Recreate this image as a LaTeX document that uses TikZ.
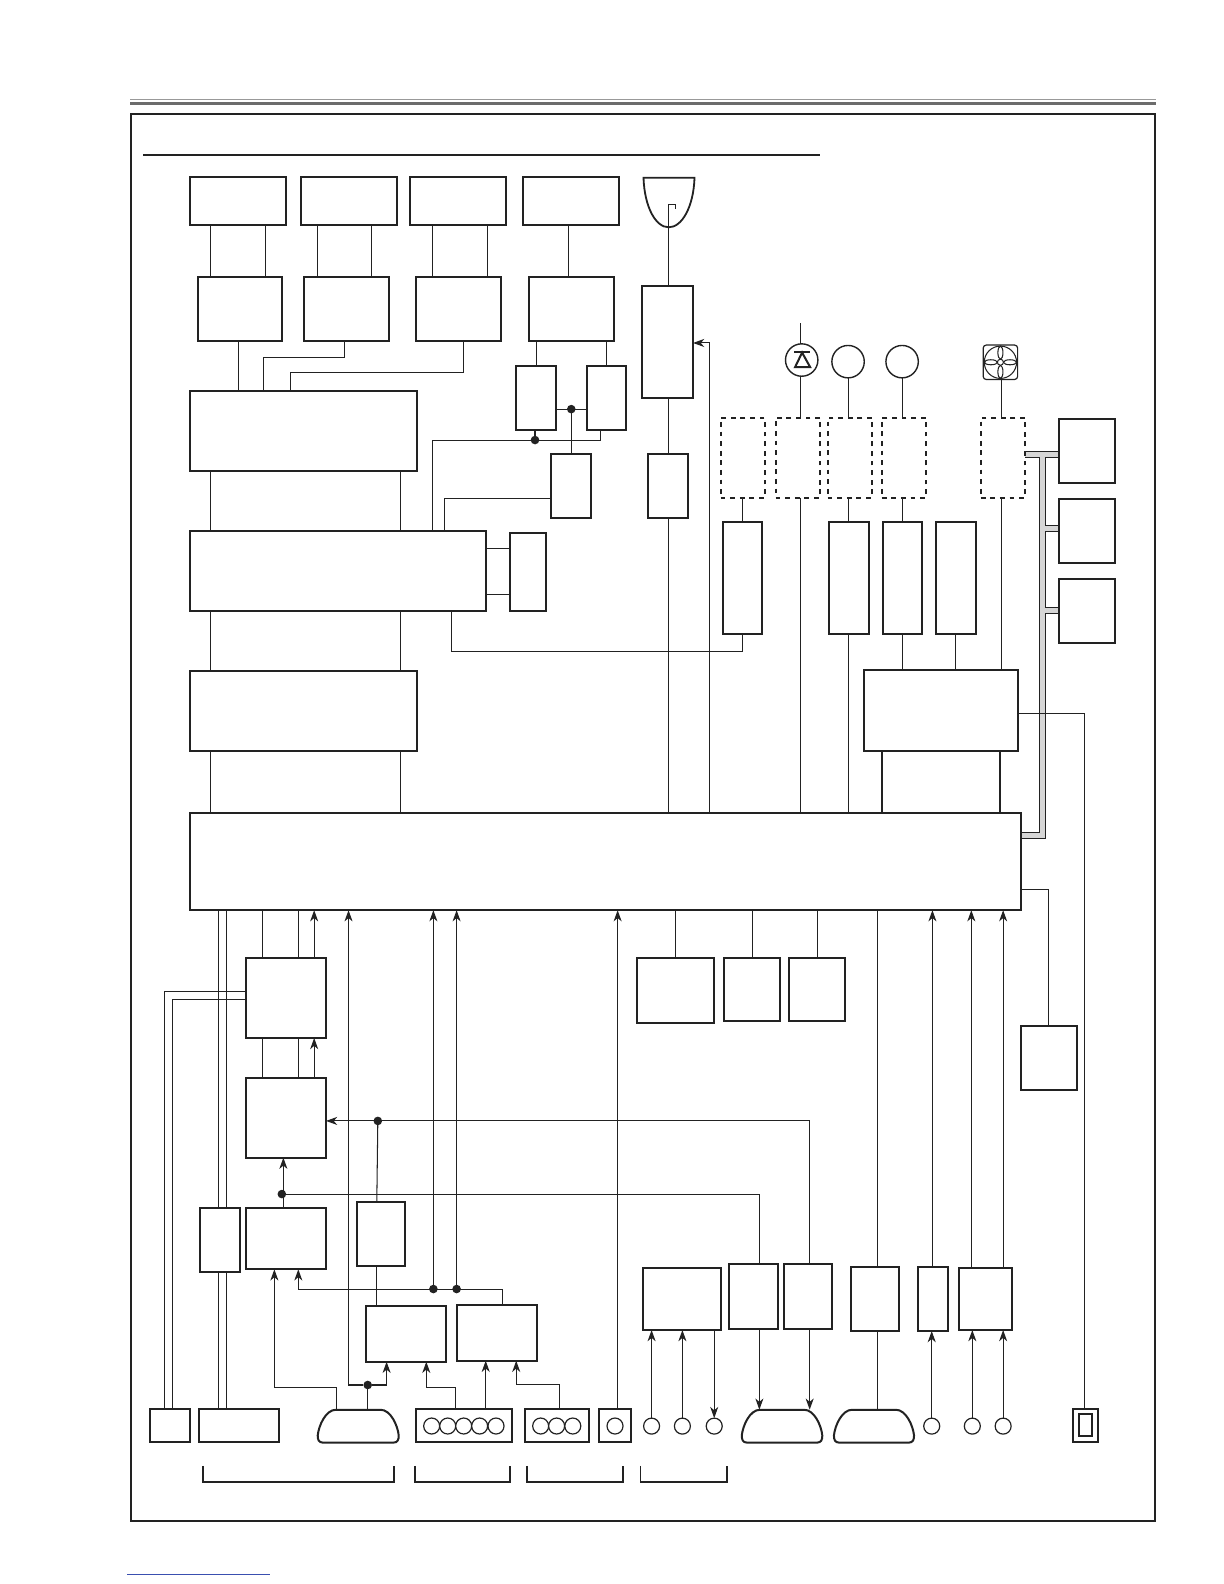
\documentclass[tikz,border=0pt]{standalone}
\usetikzlibrary{arrows.meta}
\definecolor{ink}{HTML}{222222}
\definecolor{busgray}{HTML}{D6D6D6}
\definecolor{linkblue}{HTML}{3A4FB0}
\tikzset{
  blk/.style = {rectangle, draw = ink, fill = white, line width = 1pt, inner sep = 0pt, outer sep = 0pt},
  dashblk/.style = {blk, dash pattern = on 2.4pt off 2.4pt},
  wire/.style = {draw = ink, line width = 0.52pt},
  port/.style = {circle, draw = ink, fill = white, line width = 0.6pt, minimum size = 8pt, inner sep = 0pt, outer sep = 0pt},
  bigport/.style = {port, line width = 0.7pt, minimum size = 16.2pt},
  dotnode/.style = {circle, fill = ink, minimum size = 4.3pt, inner sep = 0pt, outer sep = 0pt},
  >={Stealth[length = 5.6pt, width = 4pt, inset = 1.7pt]}
}
\begin{document}
\begin{tikzpicture}[x = 0.505pt, y = -0.505pt]
  \useasboundingbox (0, 0) rectangle (1211.6, 1568);
  \draw[draw = gray!80, line width = 0.5pt] (129, 98.3) -- (1144, 98.3);
  \draw[draw = gray!85!black, line width = 1.6pt] (129, 102.3) -- (1144, 102.3);
  \node[blk, minimum width = 1013.6 * 0.505pt, minimum height = 1392.5 * 0.505pt] (frame) at (636.2, 809) {};
  \draw[ink, line width = 1pt] (142, 153.5) -- (811.5, 153.5);
  \draw[linkblue, line width = 0.5pt] (126, 1559) -- (267, 1559);

  \filldraw[fill = busgray, wire] (1012, 447) -- (1048, 447) -- (1048, 452.7) -- (1035, 452.7) -- (1035, 520) -- (1048, 520) -- (1048, 525.7) -- (1035, 525.7) -- (1035, 601) -- (1048, 601) -- (1048, 607) -- (1035, 607) -- (1035, 829.6) -- (1008, 829.6) -- (1008, 824.3) -- (1029, 824.3) -- (1029, 452.7) -- (1012, 452.7) -- cycle;

  \foreach \n/\xa/\ya/\xb/\yb in {
    t1/188/175/283/223, t2/298/175/393/223, t3/406/175/501/223, t4/518/175/613/223,
    p1/196/274/279/338, p2/301/274/384.6/338, p3/412/274/496/338, p4/524/274/608/338,
    sa/188/387/413/466, sb/188/526/481/605, sc/188/664/413/743, mainb/188/805/1011/901,
    s1/511/362/550/426, s2/581/362/620/426, s3/545/449/584.6/513, se/505/527.5/540/605,
    tall/636/283/686/394, hv/641/449/681/513,
    g1/716/517/754.6/628, g2/821/517/860/628, g3/874/517/913/628, g4/927/517/966/628,
    drv/855/663/1008/743,
    r1/1048/414.5/1104/478, r2/1048/494/1104/557, r3/1048/573/1104/636.5,
    v1/631/948/707/1012.5, v2/717/948/772.6/1011, v3/781/948/836.6/1011, v4/1011/1016/1066.6/1079,
    dig/243.5/948/322.7/1027.5, adc/243.5/1066.8/322.7/1146,
    uu/198/1195.5/237.6/1259, yy/243.5/1195.5/322.7/1256.5, kk/353/1189.5/401.3/1253.5,
    mm/362/1293/441.6/1348, nn/452.5/1291.8/531.7/1347,
    aud/636.5/1255/714/1316.6, qq/722/1251.7/770.5/1315.7, rr/775.8/1251.7/824/1315.7,
    ss/842/1254/890/1317.6, tt/908.4/1254/938.8/1317.6, ww/949/1255/1002/1316.6,
    cw/148.5/1394.5/188/1427.5, cz/197/1394.5/276.6/1427.5,
    cv/411.4/1394.5/507/1427.5, cy/519.4/1394.5/583.4/1427.5, cs/592.6/1394.5/625/1427.5,
    cac/1061.8/1395/1086.6/1427} {
    \node[blk, minimum width = {(\xb - \xa) * 0.505pt}, minimum height = {(\yb - \ya) * 0.505pt}] (\n) at ({(\xa + \xb) / 2}, {(\ya + \yb) / 2}) {};
  }
  \node[blk, minimum width = 13.1 * 0.505pt, minimum height = 21.8 * 0.505pt] (cacin) at (cac) {};

  \foreach \n/\xa/\ya/\xb/\yb in {
    d1/713.4/413.5/757.3/492.6, d2/767.8/413.5/812/492.6, d3/819.3/413.5/863.4/492.6,
    d4/872.8/413.5/916.8/492.6, d5/970.8/413.5/1014.9/492.6} {
    \node[dashblk, minimum width = {(\xb - \xa) * 0.505pt}, minimum height = {(\yb - \ya) * 0.505pt}] (\n) at ({(\xa + \xb) / 2}, {(\ya + \yb) / 2}) {};
  }

  \foreach \n/\xa/\xb in {c1/314.5/394.7, c2/734.3/814, c3/825.5/904.8} {
    \node[minimum width = {(\xb - \xa) * 0.505pt}, minimum height = 32.5 * 0.505pt, inner sep = 0pt, outer sep = 0pt] (\n) at ({(\xa + \xb) / 2}, 1411.7) {};
    \draw[ink, line width = 1pt] (\xa + 5, 1428) .. controls (\xa + 1, 1428) and (\xa, 1425) .. (\xa, 1421) .. controls (\xa + 1, 1411) and (\xa + 8, 1395.5) .. (\xa + 18, 1395.5) -- (\xb - 18, 1395.5) .. controls (\xb - 8, 1395.5) and (\xb - 1, 1411) .. (\xb, 1421) .. controls (\xb, 1425) and (\xb - 1, 1428) .. (\xb - 5, 1428) -- cycle;
  }

  \foreach \x in {427.3, 443.2, 459, 474.8, 491, 535.2, 551, 567, 608.8} {
    \node[port] at (\x, 1411.6) {};
  }
  \foreach \n/\x in {j1/645, j2/675.5, j3/707, j4/922.3, j5/962.5, j6/993} {
    \node[port] (\n) at (\x, 1411.7) {};
  }

  \foreach \xa/\xb in {200.6/390, 411/505, 521.4/617, 634/720} {
    \draw[ink, line width = 0.9pt] (\xa, 1451) -- (\xa, 1467) -- (\xb, 1467) -- (\xb, 1451);
  }

  \draw[ink, line width = 0.9pt, fill = white] (637, 176) -- (687.5, 176) .. controls (686.5, 205) and (675, 225) .. (662, 225) .. controls (649, 225) and (638, 205) .. (637, 176) -- cycle;
  \coordinate (bulbtip) at (662, 202);
  \draw[wire] (tall.north -| 662, 0) -- (bulbtip) -- (668.5, 202) -- (668.5, 207);

  \node[bigport] (lamp) at (793.6, 356.4) {};
  \draw[ink, line width = 1pt] (786, 348.6) -- (802, 348.6);
  \draw[ink, line width = 1pt] (794, 349) -- (787, 363.5) -- (802, 363.5) -- cycle;
  \coordinate (lead) at (792, 320);
  \draw[wire] (lead) -- (lamp.north -| lead);
  \draw[wire] (lamp.south -| lead) -- (d2.north -| lead);
  \node[bigport] (m1) at (839.5, 358) {};
  \node[bigport] (m2) at (893, 358) {};
  \draw[wire] (m1.south) -- (d3.north -| m1);
  \draw[wire] (m2.south) -- (d4.north -| m2);

  \node[draw = ink, line width = 0.6pt, rounded corners = 1.5pt, minimum size = 17.2pt, inner sep = 0pt, outer sep = 0pt] (fan) at (990.3, 358.6) {};
  \draw[wire] (fan) circle (16);
  \foreach \dx/\dy/\rx/\ry in {9.5/0/6.5/2.5, -9.5/0/6.5/2.5, 0/9.5/2.5/6.5, 0/-9.5/2.5/6.5} {
    \draw[wire] (990.3 + \dx, 358.6 + \dy) ellipse ({\rx} and {\ry});
  }
  \draw[wire, fill = white] (fan) circle (3);
  \draw[wire] (fan.south -| 991.5, 0) -- (d5.north -| 991.5, 0);

  \foreach \x/\from/\to in {
    208/t1/p1, 263/t1/p1, 314/t2/p2, 367.4/t2/p2, 428/t3/p3, 482.4/t3/p3, 562.4/t4/p4,
    236/p1/sa, 208.6/sa/sb, 396.4/sa/sb, 208.6/sb/sc, 396.4/sb/sc, 208.6/sc/mainb, 396.4/sc/mainb,
    531/p4/s1, 600/p4/s2, 662/tall/hv, 662/hv/mainb,
    735/d1/g1, 792.8/d2/mainb, 840/d3/g2, 893/d4/g3, 840/g2/mainb, 893/g3/drv, 946/g4/drv, 991.5/d5/drv,
    669/mainb/v1, 744.6/mainb/v2, 809/mainb/v3,
    260/mainb/dig, 295.3/mainb/dig, 260/dig/adc, 295.3/dig/adc,
    216.5/mainb/uu, 224/mainb/uu, 216.5/uu/cz, 224/uu/cz, 373/kk/mm,
    868.5/mainb/ss, 868.5/ss/c3} {
    \draw[wire] (\from.south -| \x, 0) -- (\to.north -| \x, 0);
  }
  \foreach \x in {873, 990} {
    \draw[ink, line width = 1pt] (drv.south -| \x, 0) -- (mainb.north -| \x, 0);
  }

  \foreach \x/\from/\to in {
    311/dig/mainb, 311/adc/dig, 280.5/yy/adc, 611.4/cs/mainb, 923/tt/mainb,
    961.5/ww/mainb, 993/ww/mainb, 480.8/cv/nn} {
    \draw[wire, ->] (\from.north -| \x, 0) -- (\to.south -| \x, 0);
  }
  \foreach \from/\to in {j1/aud, j2/aud, j4/tt, j5/ww, j6/ww} {
    \draw[wire, ->] (\from.north) -- (\to.south -| \from);
  }
  \draw[wire, ->] (aud.south -| j3) -- (j3.north);
  \foreach \x/\from/\to in {751.7/qq/c2, 801.5/rr/c2} {
    \draw[wire, ->] (\from.south -| \x, 0) -- (\to.north -| \x, 0);
  }

  \draw[wire] (p2.south -| 341, 0) -- (341, 354) -- (261, 354) -- (sa.north -| 261, 0);
  \draw[wire] (p3.south -| 459, 0) -- (459, 369) -- (288, 369) -- (sa.north -| 288, 0);

  \node[dotnode] (ds1) at (565.5, 405) {};
  \node[dotnode] (ds2) at (529.6, 435.6) {};
  \draw[wire] (s1.east |- ds1) -- (s2.west |- ds1);
  \draw[wire] (ds1) -- (s3.north -| ds1);
  \draw[wire] (s2.south -| 594.6, 0) -- (594.6, 435.6) -- (428, 435.6) -- (sb.north -| 428, 0);
  \draw[wire] (ds2) -- (s1.south -| ds2);
  \draw[wire] (s3.west |- 0, 493.5) -- (440, 493.5) -- (sb.north -| 440, 0);
  \foreach \y in {542.6, 588.4} {
    \draw[wire] (sb.east |- 0, \y) -- (se.west |- 0, \y);
  }
  \draw[wire] (sb.south -| 447, 0) -- (447, 645) -- (735, 645) -- (g1.south -| 735, 0);
  \draw[wire, ->] (mainb.north -| 702, 0) -- (702, 339.5) -- (tall.east |- 0, 339.5);

  \draw[wire] (drv.east |- 0, 706) -- (1073.4, 706) -- (cac.north -| 1073.4, 0);
  \draw[wire] (mainb.east |- 0, 880.4) -- (1038, 880.4) -- (v4.north -| 1038, 0);

  \draw[wire] (dig.west |- 0, 981.3) -- (163, 981.3) -- (cw.north -| 163, 0);
  \draw[wire] (dig.west |- 0, 989) -- (170.6, 989) -- (cw.north -| 170.6, 0);

  \node[dotnode] (dtv) at (374, 1109.6) {};
  \node[dotnode] (dyy) at (279, 1182) {};
  \node[dotnode] (dcc) at (364, 1371) {};
  \node[dotnode] (dn1) at (429, 1276) {};
  \node[dotnode] (dn2) at (452, 1276) {};
  \draw[wire, ->] (rr.north -| 801.5, 0) -- (801.5, 1109.6) -- (adc.east |- 0, 1109.6);
  \draw[wire] (kk.north -| 373, 0) -- (dtv);
  \draw[wire] (dyy) -- (751.7, 1182) -- (qq.north -| 751.7, 0);
  \draw[wire, ->] (nn.north -| 497, 0) -- (497, 1276.6) -- (295.3, 1276.6) -- (yy.south -| 295.3, 0);
  \draw[wire, ->] (dn1) -- (mainb.south -| dn1);
  \draw[wire, ->] (dn2) -- (mainb.south -| dn2);
  \draw[wire] (c1.north -| dcc) -- (dcc);
  \draw[wire, ->] (dcc) -- (345, 1371) -- (mainb.south -| 345, 0);
  \draw[wire, ->] (dcc) -- (382.7, 1371) -- (mm.south -| 382.7, 0);
  \draw[wire, ->] (c1.north -| 333.3, 0) -- (333.3, 1373.4) -- (271.6, 1373.4) -- (yy.south -| 271.6, 0);
  \draw[wire, ->] (cv.north -| 451, 0) -- (451, 1373.4) -- (422, 1373.4) -- (mm.south -| 422, 0);
  \draw[wire, ->] (cy.north -| 553.7, 0) -- (553.7, 1370.4) -- (511, 1370.4) -- (nn.south -| 511, 0);
\end{tikzpicture}
\end{document}
